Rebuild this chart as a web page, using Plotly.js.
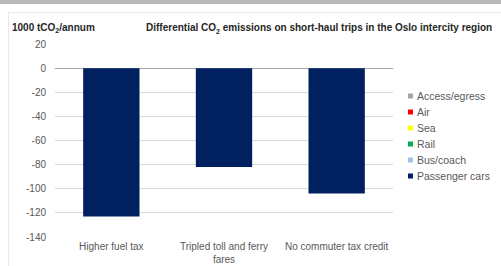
<!DOCTYPE html>
<html><head><meta charset="utf-8">
<script src="https://cdn.plot.ly/plotly-3.0.1.min.js"></script>
<style>
body{margin:0;padding:0;background:#fff;width:501px;height:266px;overflow:hidden;position:relative;}
#topbar{position:absolute;left:0;top:0;width:501px;height:4px;background:#b9b9b9;}
#frame{position:absolute;left:8px;top:12px;width:493px;height:254px;border-left:1px solid #e8e8e8;border-top:1px solid #e8e8e8;}
#chart{position:absolute;left:0;top:0;width:501px;height:266px;}
</style></head>
<body>
<div id="topbar"></div><div id="frame"></div>
<div id="chart"></div>
<script>
const categories = ["Higher fuel tax", "Tripled toll and ferry<br>fares", "No commuter tax credit"];
const seriesNames = ["Access/egress", "Air", "Sea", "Rail", "Bus/coach", "Passenger cars"];
const seriesColors = ["#a6a6a6", "#ff0000", "#ffff00", "#00b050", "#9dc3e6", "#002060"];
const accessEgress = [0, 0, 0];
const air = [0, 0, 0];
const sea = [0, 0, 0];
const rail = [0, 0, 0];
const busCoach = [0, 0, 0];
const passengerCars = [-123, -82, -104];
const seriesValues = [accessEgress, air, sea, rail, busCoach, passengerCars];
const yTicks = [-140, -120, -100, -80, -60, -40, -20, 0, 20];

const FONT = "Liberation Sans Narrow, Liberation Sans, Arial, sans-serif";
const ML = 55, MR = 108, MT = 44, MB = 29, W = 501, H = 266;
const PW = W - ML - MR, PH = H - MT - MB;
const px = v => (v - ML) / PW;
const py = v => 1 - (v - MT) / PH;

const traces = seriesNames.map((n, i) => ({
  type: "bar", name: n, x: categories, y: seriesValues[i],
  marker: {color: seriesColors[i], line: {width: 0}},
  width: 0.5, showlegend: false, hoverinfo: "skip"
}));

// legend built from the series names/colours
const legendShapes = [], legendAnns = [];
seriesNames.forEach((n, i) => {
  const cy = 96 + 16 * i;
  legendShapes.push({type: "rect", xref: "paper", yref: "paper",
    x0: px(408), x1: px(413), y0: py(cy + 2.5), y1: py(cy - 2.5),
    fillcolor: seriesColors[i], line: {width: 0}});
  legendAnns.push({text: n, xref: "paper", yref: "paper", x: px(415), y: py(cy),
    xanchor: "left", yanchor: "middle", showarrow: false,
    font: {family: FONT, size: 10.5, color: "#595959"}});
});

const layout = {
  width: W, height: H,
  paper_bgcolor: "rgba(0,0,0,0)", plot_bgcolor: "rgba(0,0,0,0)",
  margin: {l: ML, r: MR, t: MT, b: MB, pad: 0},
  barmode: "relative",
  showlegend: false,
  font: {family: FONT, size: 10, color: "#595959"},
  title: {text: "<b>Differential CO<sub>2</sub> emissions on short-haul trips in the Oslo intercity region</b>",
    x: 0.637, xref: "container", xanchor: "center", y: 0.895, yref: "container", yanchor: "middle",
    font: {family: FONT, size: 10, color: "#262626"}},
  xaxis: {showgrid: false, showline: false, zeroline: false, ticks: "", ticklabelstandoff: 2,
    tickfont: {size: 10, color: "#595959"}, fixedrange: true},
  yaxis: {range: [-140, 20], tickvals: yTicks, ticktext: yTicks.map(String), showgrid: true, gridcolor: "#d9d9d9", gridwidth: 1,
    zeroline: true, zerolinecolor: "#a6a6a6", zerolinewidth: 1, showline: false, ticks: "", ticklabelstandoff: 8,
    tickfont: {size: 10, color: "#595959"}},
  shapes: legendShapes,
  annotations: [{text: "<b>1000 tCO<sub>2</sub>/annum</b>", xref: "paper", yref: "paper", x: px(10), y: py(28),
    xanchor: "left", yanchor: "middle", showarrow: false, font: {family: FONT, size: 10, color: "#262626"}}].concat(legendAnns)
};
Plotly.newPlot("chart", traces, layout, {displayModeBar: false, staticPlot: true});
</script></body></html>
